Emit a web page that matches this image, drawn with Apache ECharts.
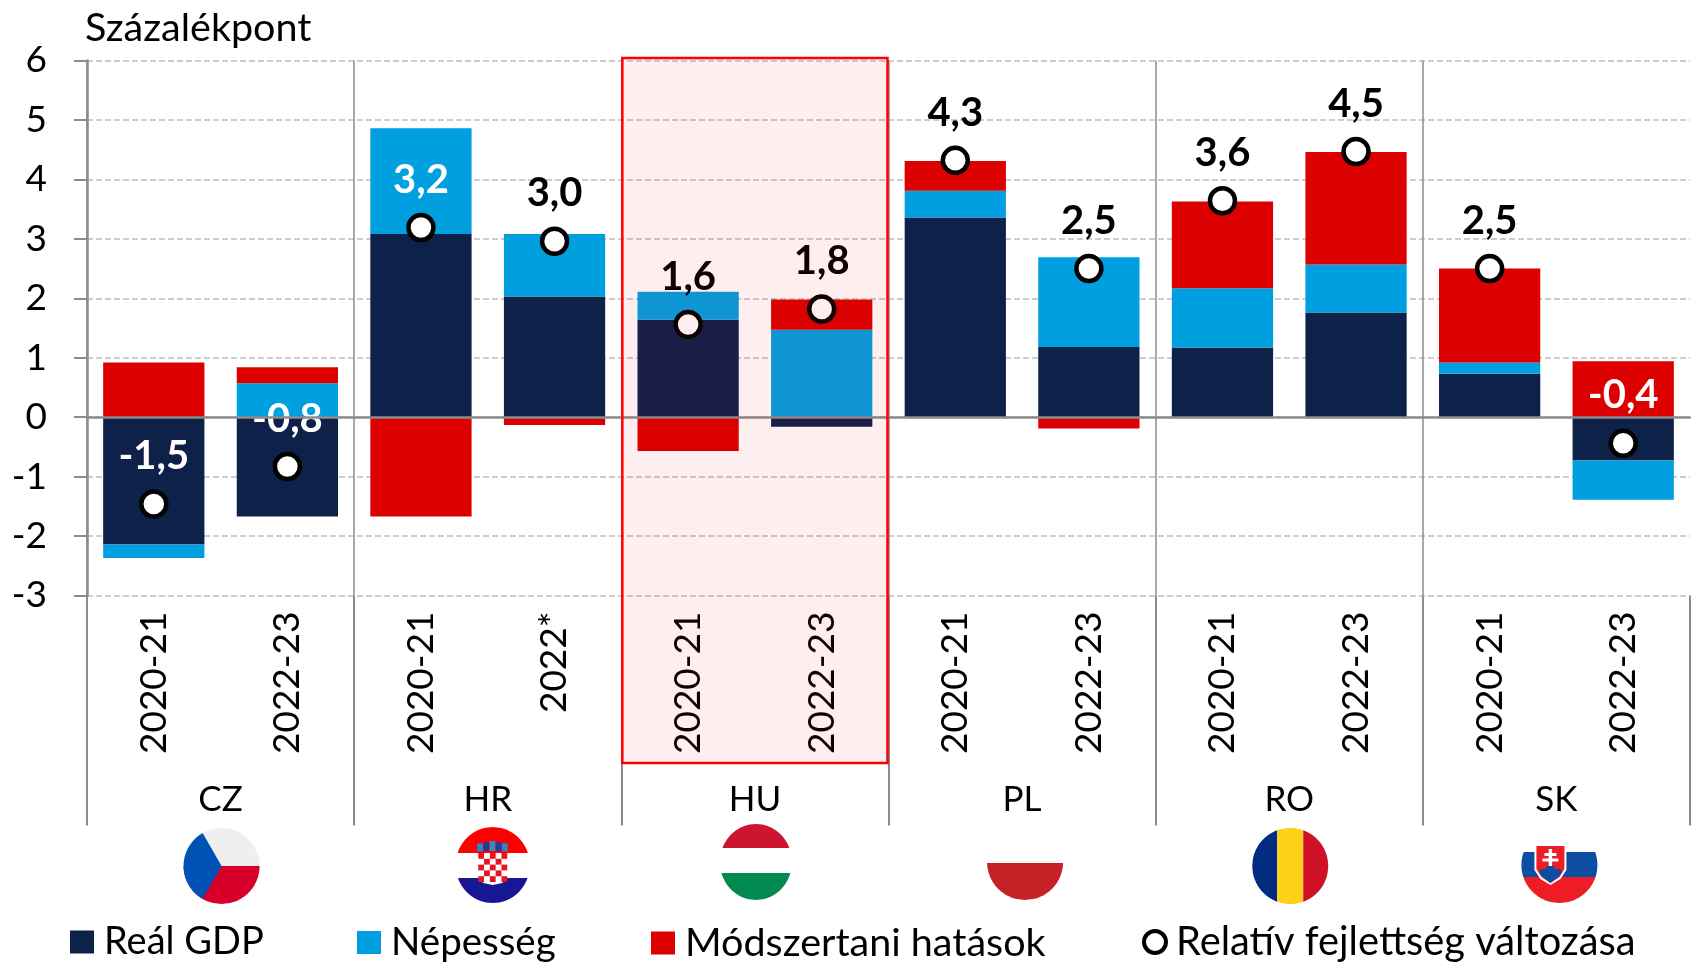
<!DOCTYPE html>
<html><head><meta charset="utf-8">
<style>html,body{margin:0;padding:0;background:#fff}#c{width:1691px;height:965px}</style>
<script src="https://cdn.jsdelivr.net/npm/echarts@6/dist/echarts.min.js"></script>
</head><body><div id="c"></div>
<script>
const periods = ['2020-21','2022-23','2020-21','2022*','2020-21','2022-23','2020-21','2022-23','2020-21','2022-23','2020-21','2022-23'];
const countries = ['CZ','HR','HU','PL','RO','SK'];
const realGdp = [-2.14,-1.67,3.08,2.03,1.64,-0.16,3.36,1.18,1.17,1.76,0.73,-0.73];
const nepesseg = [-0.23,0.57,1.78,1.05,0.47,1.47,0.45,1.51,1.00,0.81,0.19,-0.66];
const modszertani = [0.92,0.27,-1.67,-0.13,-0.57,0.51,0.50,-0.19,1.46,1.89,1.58,0.94];
const fejlettseg = [-1.46,-0.83,3.19,2.96,1.56,1.82,4.32,2.50,3.64,4.47,2.50,-0.44];
const whiteLabelIdx = [0,1,2,11];
const yTicks = {min:-3,max:6,interval:1};

const FONT = 'Lato';
const GRAY = '#8c8c8c';
const NAVY='#0e2149', BLUE='#009fe0', RED='#dc0000';
const grid = {left:87,top:60.5,width:1603,height:535};
const fmt = v => v.toFixed(1).replace('.',',');

const chart = echarts.init(document.getElementById('c'));
const bar = (name,data,color)=>({name,type:'bar',stack:'t',data,barCategoryGap:'24.2%',xAxisIndex:0,yAxisIndex:0,itemStyle:{color},z:2});
const legendAt = (name,left,size,icon,fontSize,extra)=>({data:[Object.assign({name,icon},extra||{})],left,top:icon==='circle'?922:923,padding:0,itemWidth:size,itemHeight:icon==='circle'?22:23,
  textStyle:{fontFamily:FONT,fontSize,color:'#000',padding:[0,0,0,5]},itemGap:0});

chart.setOption({
  animation:false,
  backgroundColor:'#fff',
  title:{text:'Százalékpont',left:80,top:3,textStyle:{fontFamily:FONT,fontSize:39.5,fontWeight:'normal',color:'#000'}},
  grid:[Object.assign({},grid),Object.assign({},grid)],
  legend:[
    legendAt('Reál GDP',70,24,'rect',38),
    legendAt('Népesség',357,24,'rect',38.5),
    legendAt('Módszertani hatások',651,24,'rect',39.5),
    legendAt('Relatív fejlettség változása',1142,22,'circle',39.8,{itemStyle:{color:'#fff',borderColor:'#000',borderWidth:4}})
  ],
  xAxis:[
    {type:'category',gridIndex:0,data:periods,position:'bottom',axisLine:{show:false,onZero:false},axisTick:{show:false},splitLine:{show:false},
      axisLabel:{interval:0,rotate:90,margin:16,fontFamily:FONT,fontSize:37,color:'#000',padding:[10,0,0,0]}},
    {type:'category',gridIndex:1,data:countries,position:'bottom',axisLine:{show:false,onZero:false},
      axisTick:{show:true,length:230,lineStyle:{color:GRAY,width:2}},
      splitLine:{show:true,showMaxLine:false,lineStyle:{color:GRAY,width:1.5}},
      axisLabel:{interval:0,margin:187,fontFamily:FONT,fontSize:35,color:'#000'}},
    {type:'category',gridIndex:0,data:periods,position:'top',z:6,axisLine:{show:true,onZero:true,lineStyle:{color:GRAY,width:2.5}},axisTick:{show:false},axisLabel:{show:false},splitLine:{show:false}}
  ],
  yAxis:[
    Object.assign({type:'value',gridIndex:0,axisLine:{show:true,onZero:false,lineStyle:{color:GRAY,width:2.5}},
      axisTick:{show:true,length:13,lineStyle:{color:GRAY,width:2}},
      splitLine:{show:true,lineStyle:{color:'#bdbdbd',width:1.5,type:[6,3]}},
      axisLabel:{margin:40,fontFamily:FONT,fontSize:37,color:'#000',formatter:v=>String(v)}},yTicks),
    Object.assign({type:'value',gridIndex:1,show:false,splitLine:{show:false}},yTicks)
  ],
  series:[
    bar('Reál GDP',realGdp,NAVY),
    bar('Népesség',nepesseg,BLUE),
    bar('Módszertani hatások',modszertani,RED),
    {name:'Relatív fejlettség változása',type:'scatter',xAxisIndex:0,yAxisIndex:0,z:5,symbol:'circle',symbolSize:25,
      data:fejlettseg.map((v,i)=>({value:v,label:{color:whiteLabelIdx.includes(i)?'#fff':'#000'}})),
      itemStyle:{color:'#fff',borderColor:'#000',borderWidth:4.5,opacity:1},
      label:{show:true,position:'top',distance:13,fontFamily:FONT,fontWeight:'bold',fontSize:40,formatter:p=>fmt(p.value)}}
  ]
});

// Decorations: highlight frame and flags, anchored on the axis scales
function ellipseBand(cx,cy,rx,ry,y1,y2){
  const t=Math.max(y1,cy-ry), b=Math.min(y2,cy+ry), pts=[];
  const n=40;
  for(let i=0;i<=n;i++){const y=t+(b-t)*i/n; pts.push([cx+rx*Math.sqrt(Math.max(0,1-((y-cy)/ry)**2)),y]);}
  for(let i=n;i>=0;i--){const y=t+(b-t)*i/n; pts.push([cx-rx*Math.sqrt(Math.max(0,1-((y-cy)/ry)**2)),y]);}
  return pts;
}
function ellipseVBand(cx,cy,rx,ry,x1,x2){
  const l=Math.max(x1,cx-rx), r=Math.min(x2,cx+rx), pts=[];
  const n=40;
  for(let i=0;i<=n;i++){const x=l+(r-l)*i/n; pts.push([x,cy-ry*Math.sqrt(Math.max(0,1-((x-cx)/rx)**2))]);}
  for(let i=n;i>=0;i--){const x=l+(r-l)*i/n; pts.push([x,cy+ry*Math.sqrt(Math.max(0,1-((x-cx)/rx)**2))]);}
  return pts;
}
const poly=(points,fill)=>({type:'polygon',shape:{points},style:{fill},silent:true,z:20});
const rect=(x,y,width,height,fill)=>({type:'rect',shape:{x,y,width,height},style:{fill},silent:true,z:21});
const px = i => chart.convertToPixel({xAxisIndex:1},countries[i]);
const g=[];
// CZ
(()=>{const x=px(0)+1,y=866,rx=38,ry=38;
  g.push(poly(ellipseBand(x,y,rx,ry,y-ry,y),'#efefef'));
  g.push(poly(ellipseBand(x,y,rx,ry,y,y+ry),'#d7002a'));
  const blue=[[x,y]];
  for(let i=0;i<=30;i++){const a=Math.PI*(2/3+i/30*2/3); blue.push([x+rx*Math.cos(a),y+ry*Math.sin(a)]);}
  g.push(poly(blue,'#0051b5'));
})();
// HR
(()=>{const x=px(1)+5,y=865,rx=37,ry=38;
  g.push(poly(ellipseBand(x,y,rx,ry,y-ry,853),'#ff0000'));
  g.push(poly(ellipseBand(x,y,rx,ry,878,y+ry),'#171796'));
  const sx=x-14.5,sy=853,c=5.8;
  g.push(rect(sx,sy,29,25,'#fff'));
  g.push(poly([[sx,sy+25],[sx+29,sy+25],[sx+24,sy+30],[x,sy+32],[sx+5,sy+30]],'#fff'));
  for(let r=0;r<5;r++)for(let k=0;k<5;k++){ if((r+k)%2===0) g.push(rect(sx+k*c,sy+r*c,c,c,'#e8141c')); }
  ['#1f8ed0','#1e3f99','#2b8fc9','#1e3f99','#1f8ed0'].forEach((col,i)=>g.push(rect(sx-1+i*6.2,841+Math.abs(2-i)*1.2,5.6,10-Math.abs(2-i),col)));
})();
// HU
(()=>{const x=px(2)+1,y=862,rx=36,ry=38;
  g.push(poly(ellipseBand(x,y,rx,ry,y-ry,848),'#cd1530'));
  g.push(poly(ellipseBand(x,y,rx,ry,873,y+ry),'#008a50'));
})();
// PL
(()=>{const x=px(3)+3,y=862,rx=38,ry=38;
  g.push(poly(ellipseBand(x,y,rx,ry,863,y+ry),'#c62127'));
})();
// RO
(()=>{const x=px(4)+1,y=866,rx=38,ry=38;
  g.push(poly(ellipseVBand(x,y,rx,ry,x-rx,x-13),'#002b7f'));
  g.push(poly(ellipseVBand(x,y,rx,ry,x-13,x+13),'#fcd116'));
  g.push(poly(ellipseVBand(x,y,rx,ry,x+13,x+rx),'#ce1126'));
})();
// SK
(()=>{const x=px(5)+3,y=865,rx=38,ry=38;
  g.push(poly(ellipseBand(x,y,rx,ry,852,877),'#0b4ea2'));
  g.push(poly(ellipseBand(x,y,rx,ry,877,y+ry),'#ee1c25'));
  const sx=x-9;
  g.push(Object.assign(poly([[sx-16,846],[sx+16,846],[sx+16,870],[sx+10,879],[sx,885],[sx-10,879],[sx-16,870]],'#ffffff'),{z:21}));
  g.push(Object.assign(poly([[sx-14,846],[sx+14,846],[sx+14,869],[sx+9,877],[sx,883],[sx-9,877],[sx-14,869]],'#ee1c25'),{z:22}));
  g.push(Object.assign(rect(sx-1.7,849,3.4,19,'#fff'),{z:23}));
  g.push(Object.assign(rect(sx-6,853,12,3,'#fff'),{z:23}));
  g.push(Object.assign(rect(sx-8,858.5,16,3,'#fff'),{z:23}));
  g.push(Object.assign(poly([[sx-11,873],[sx-10,869],[sx-5,869],[sx-3,866],[sx+3,866],[sx+5,869],[sx+10,869],[sx+11,873],[sx+8,877],[sx,883],[sx-8,877]],'#0b4ea2'),{z:23}));
})();
// Highlight frame over the HU group
const bandW = grid.width/countries.length;
const hx = px(2)-bandW/2;
g.push({type:'rect',shape:{x:hx+1,y:58,width:bandW-2,height:705},style:{fill:'rgba(230,20,10,0.067)',stroke:'#ff0000',lineWidth:2.5},silent:true,z:100});
chart.setOption({graphic:{elements:g}});
</script></body></html>
